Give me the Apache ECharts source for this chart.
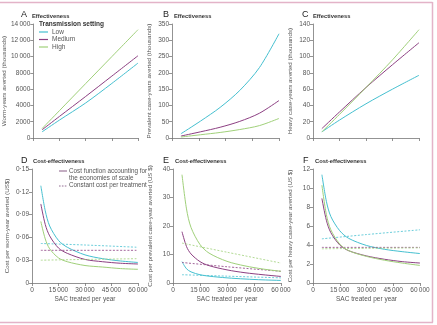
<!DOCTYPE html>
<html><head><meta charset="utf-8">
<script src="https://cdn.jsdelivr.net/npm/echarts@6/dist/echarts.min.js"></script>
<style>html,body{margin:0;padding:0;background:#fff}#c{width:437px;height:325px}</style>
</head><body><div id="c"></div>
<script>
// ---- data ----
const settings = ['Low', 'Medium', 'High'];
const xEff = [5000, 15000, 30000, 45000, 60000];
const wormAverted = { Low: [750, 2200, 4300, 6700, 9200], Medium: [1000, 2650, 5100, 7600, 10100], High: [1150, 3360, 6680, 9990, 13300] };
const xPrev = [5000, 16000, 27000, 38000, 49000, 60000];
const prevAverted = { Low: [13, 52, 94, 146, 216, 320], Medium: [6, 19, 33, 51, 76, 115], High: [3, 10, 17, 26, 38, 60] };
const heavyAverted = { Low: [7.5, 22, 42, 60, 77], Medium: [11.5, 32, 62, 90, 117], High: [7.5, 29, 62, 96, 133] };
const xCE = [5000, 7500, 10000, 15000, 20000, 30000, 40000, 50000, 60000];
const xConst = [5000, 30000, 60000];
const costWorm = { Low: [0.128, 0.095, 0.075, 0.056, 0.047, 0.037, 0.032, 0.029, 0.027], Medium: [0.104, 0.077, 0.062, 0.046, 0.039, 0.031, 0.028, 0.026, 0.025], High: [0.081, 0.058, 0.045, 0.033, 0.028, 0.023, 0.021, 0.019, 0.018] };
const costWormConst = { Low: [0.052, 0.050, 0.047], Medium: [0.043, 0.043, 0.043], High: [0.030, 0.031, 0.032] };
const costPrev = { Low: [7.5, 5.0, 3.9, 2.9, 2.4, 1.8, 1.4, 1.1, 0.9], Medium: [18, 12.8, 10.2, 7.5, 6.1, 4.6, 3.6, 2.9, 2.3], High: [38, 26, 19.5, 13.5, 10.5, 7.6, 6, 4.9, 4.1] };
const costPrevConst = { Low: [2.9, 2.4, 1.8], Medium: [7.2, 5.7, 4.1], High: [14, 10.8, 7.0] };
const costHeavy = { Low: [11.4, 8.6, 7.0, 5.5, 4.7, 3.95, 3.55, 3.3, 3.1], Medium: [8.9, 6.6, 5.3, 4.0, 3.4, 2.85, 2.5, 2.25, 2.1], High: [10.3, 7.2, 5.6, 4.1, 3.4, 2.8, 2.4, 2.1, 1.85] };
const costHeavyConst = { Low: [4.65, 5.1, 5.6], Medium: [3.75, 3.75, 3.75], High: [3.6, 3.65, 3.7] };
const panelLetters = ['A', 'B', 'C', 'D', 'E', 'F'];
const panelTitles = ['Effectiveness', 'Effectiveness', 'Effectiveness', 'Cost-effectiveness', 'Cost-effectiveness', 'Cost-effectiveness'];
const yNames = ['Worm-years averted (thousands)', 'Prevalent case-years averted (thousands)', 'Heavy case-years averted (thousands)',
  'Cost per worm-year averted (US$)', 'Cost per prevalent case-year averted (US $)', 'Cost per heavy case-year averted (US $)'];
const xName = 'SAC treated per year';

// ---- styling ----
const colors = { Low: '#45c0d0', Medium: '#8c3f82', High: '#a0d07a' };
const FONT = 'Liberation Sans';
const axisCol = '#777';
const labCol = '#555';

function thin(v) {
  const s = String(v);
  if (s.length >= 5) return s.replace(/\B(?=(\d{3})+(?!\d))/g, '\u2009');
  return s;
}

const grids = [
  { left: 32, top: 24, width: 106, height: 114 },
  { left: 172, top: 24, width: 107, height: 114 },
  { left: 313, top: 24, width: 106, height: 114 },
  { left: 32, top: 169, width: 106, height: 114 },
  { left: 173, top: 169, width: 108, height: 114 },
  { left: 313, top: 169, width: 107, height: 114 }
];
const yRanges = [[0, 14000, 2000], [0, 350, 50], [0, 140, 20], [0, 0.15, 0.03], [0, 40, 10], [0, 12, 2]];

const axisCommon = {
  axisLine: { lineStyle: { color: axisCol, width: 0.8 } },
  axisTick: { length: 3, lineStyle: { color: axisCol, width: 0.8 } },
  splitLine: { show: false },
  axisLabel: { color: labCol, fontSize: 6.5, fontFamily: FONT, margin: 3 }
};

const xAxes = grids.map((g, i) => Object.assign({}, JSON.parse(JSON.stringify(axisCommon)), {
  type: 'value', gridIndex: i, min: 0, max: 60000, interval: 15000,
  name: i >= 3 ? xName : '', nameLocation: 'middle', nameGap: 13,
  nameTextStyle: { color: labCol, fontSize: 6.5, fontFamily: FONT },
  axisLabel: { show: i >= 3, color: labCol, fontSize: 6.5, fontFamily: FONT, margin: 4, formatter: v => thin(v) }
}));
const yAxes = grids.map((g, i) => Object.assign({}, JSON.parse(JSON.stringify(axisCommon)), {
  type: 'value', gridIndex: i, min: yRanges[i][0], max: yRanges[i][1], interval: yRanges[i][2],
  name: yNames[i], nameLocation: 'middle', nameGap: i === 3 ? 22 : 20,
  nameTextStyle: { color: labCol, fontSize: 6.2, fontFamily: FONT },
  axisLabel: { color: labCol, fontSize: 6.5, fontFamily: FONT, margin: 3,
    formatter: v => (i === 3 ? (v === 0 ? '0' : v.toFixed(2).replace('.', '\u00b7')) : thin(v)) }
}));

const series = [];
function add(name, xs, ys, gi, dashed) {
  series.push({
    name: name, type: 'line', xAxisIndex: gi, yAxisIndex: gi, smooth: 0.3,
    showSymbol: false, symbol: 'none', silent: true, animation: false,
    data: xs.map((x, k) => [x, ys[k]]),
    lineStyle: { color: colors[name], width: dashed ? 0.8 : 1, type: dashed ? [2, 1.6] : 'solid' },
    itemStyle: { color: colors[name] }
  });
}
settings.forEach(s => {
  add(s, xEff, wormAverted[s], 0, false);
  add(s, xPrev, prevAverted[s], 1, false);
  add(s, xEff, heavyAverted[s], 2, false);
  add(s, xConst, costWormConst[s], 3, true);
  add(s, xConst, costPrevConst[s], 4, true);
  add(s, xConst, costHeavyConst[s], 5, true);
  add(s, xCE, costWorm[s], 3, false);
  add(s, xCE, costPrev[s], 4, false);
  add(s, xCE, costHeavy[s], 5, false);
});

const letterPos = [[21, 10.5], [163, 10.5], [302, 10.5], [21, 156], [163, 156], [303, 156]];
const titles = [];
letterPos.forEach((p, i) => {
  titles.push({ text: panelLetters[i], left: p[0], top: p[1], padding: 0, textStyle: { fontSize: 9, fontWeight: 'normal', color: '#222', fontFamily: FONT } });
  titles.push({ text: panelTitles[i], left: p[0] + (i >= 3 ? 12 : 11), top: p[1] + 2.5, padding: 0, textStyle: { fontSize: 5.8, fontWeight: 'bold', color: '#333', fontFamily: FONT } });
});
titles.push({ text: 'Transmission setting', left: 39, top: 20.5, padding: 0, textStyle: { fontSize: 6.5, fontWeight: 'bold', color: '#333', fontFamily: FONT } });

const pink = '#e3b3c8';
const chart = echarts.init(document.getElementById('c'), null, { renderer: 'canvas' });
chart.setOption({
  animation: false,
  backgroundColor: '#fff',
  title: titles,
  grid: grids,
  xAxis: xAxes,
  yAxis: yAxes,
  legend: {
    data: settings, orient: 'vertical', left: 39, top: 28.5, padding: 0, itemWidth: 9, itemHeight: 1.2, itemGap: 0.5,
    icon: 'rect', selectedMode: false,
    textStyle: { fontSize: 6.5, color: labCol, fontFamily: FONT, lineHeight: 7, padding: [0, 0, 0, -1] }
  },
  graphic: [
    { type: 'line', shape: { x1: 0, y1: 2.5, x2: 432.5, y2: 2.5 }, style: { stroke: pink, lineWidth: 1.5 } },
    { type: 'line', shape: { x1: 432.5, y1: 2, x2: 432.5, y2: 322.5 }, style: { stroke: pink, lineWidth: 1.5 } },
    { type: 'line', shape: { x1: 0, y1: 322.5, x2: 433, y2: 322.5 }, style: { stroke: pink, lineWidth: 1.5 } },
    { type: 'line', shape: { x1: 59, y1: 171, x2: 67, y2: 171 }, style: { stroke: '#7a4a78', lineWidth: 0.9 } },
    { type: 'text', left: 69, top: 167.5, style: { text: 'Cost function accounting for\nthe economies of scale', fontSize: 6.3, lineHeight: 7.5, fill: labCol, fontFamily: FONT } },
    { type: 'line', shape: { x1: 59, y1: 186, x2: 67, y2: 186 }, style: { stroke: '#7a4a78', lineWidth: 0.8, lineDash: [1.6, 1.3] } },
    { type: 'text', left: 69, top: 182.5, style: { text: 'Constant cost per treatment', fontSize: 6.3, fill: labCol, fontFamily: FONT } }
  ],
  series: series
});
</script></body></html>
